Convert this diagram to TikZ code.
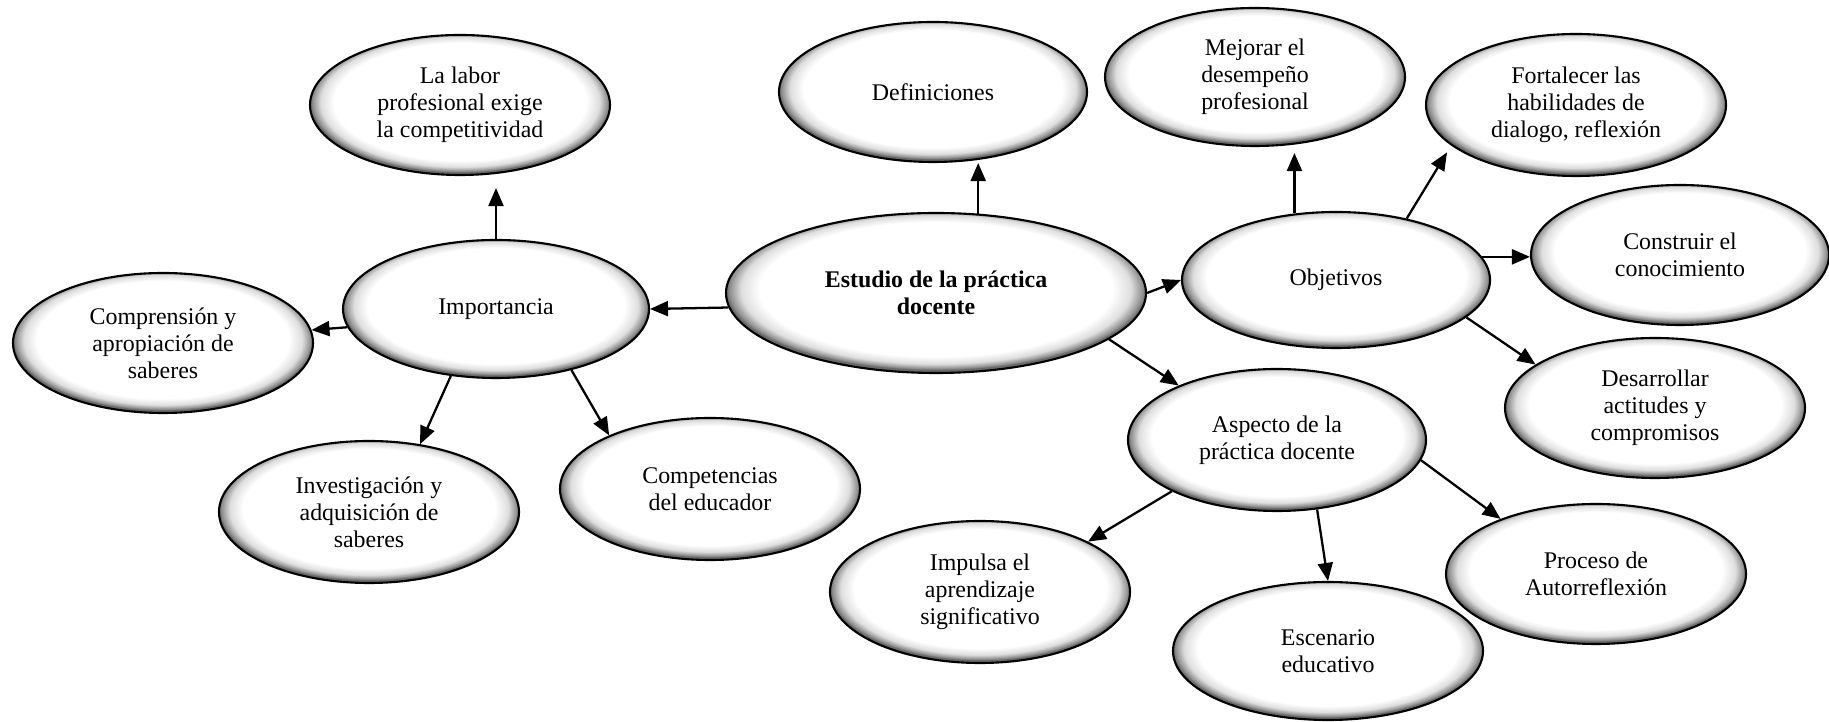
\documentclass[tikz,border=0pt]{standalone}
\usepackage{fontspec}
\setmainfont{Liberation Serif}
\usetikzlibrary{shapes.geometric,arrows.meta}
\definecolor{rimgray}{RGB}{105,105,105}
\pgfdeclareradialshading{bubbleshade}{\pgfpoint{0bp}{2bp}}{color(0bp)=(white); color(21bp)=(white); color(23.2bp)=(rimgray!22); color(24.6bp)=(rimgray!75); color(25bp)=(rimgray); color(50bp)=(rimgray)}

\begin{document}
\begin{tikzpicture}[
    bubble/.style={ellipse, draw=black, line width=1.2pt, shade, shading=bubbleshade,
                   minimum width=6cm, minimum height=2.8cm, inner sep=0pt, align=center,
                   font=\fontsize{13.6}{15.4}\selectfont},
    conn/.style={-{Triangle[length=0.36cm,width=0.3cm]}, line width=1.3pt}]
            \useasboundingbox (0,0) rectangle (36.58,14.44);
            \node[bubble, minimum width=8.4cm, minimum height=3.2cm,
                  font=\fontsize{13.6}{15.4}\selectfont\bfseries]  (estudio)       at (18.72, 8.58) {Estudio de la práctica\\docente};
            \node[bubble, minimum width=6.12cm, minimum height=2.76cm] (importancia)   at ( 9.92, 8.26) {Importancia};
            \node[bubble]                                           (labor)         at ( 9.20,12.34) {La labor\\profesional exige\\la competitividad};
            \node[bubble]                                           (comprension)   at ( 3.26, 7.58) {Comprensión y\\apropiación de\\saberes};
            \node[bubble, minimum height=2.84cm]                    (investigacion) at ( 7.38, 4.20) {Investigación y\\adquisición de\\saberes};
            \node[bubble, minimum height=2.84cm]                    (competencias)  at (14.20, 4.66) {Competencias\\del educador};
            \node[bubble, minimum width=6.16cm]                     (definiciones)  at (18.66,12.60) {Definiciones};
            \node[bubble, minimum height=2.76cm]                    (mejorar)       at (25.10,12.90) {Mejorar el\\desempeño\\profesional};
            \node[bubble, minimum height=2.84cm]                    (fortalecer)    at (31.52,12.34) {Fortalecer las\\habilidades de\\dialogo, reflexión};
            \node[bubble, minimum width=6.16cm, minimum height=2.72cm] (objetivos)   at (26.72, 8.84) {Objetivos};
            \node[bubble, minimum width=5.96cm]                     (construir)     at (33.60, 9.34) {Construir el\\conocimiento};
            \node[bubble]                                           (desarrollar)   at (33.10, 6.28) {Desarrollar\\actitudes y\\compromisos};
            \node[bubble, minimum width=5.96cm, minimum height=2.84cm] (aspecto)     at (25.54, 5.64) {Aspecto de la\\práctica docente};
            \node[bubble, minimum height=2.84cm]                    (impulsa)       at (19.60, 2.60) {Impulsa el\\aprendizaje\\significativo};
            \node[bubble, minimum width=6.2cm, minimum height=2.76cm] (escenario)    at (26.56, 1.42) {Escenario\\educativo};
            \node[bubble]                                           (proceso)       at (31.92, 2.96) {Proceso de\\Autorreflexión};
            \draw[conn]                    (estudio.184)     -- (importancia.east);
            \draw[conn, shorten >=0.24cm]  (importancia.north) -- (importancia.north |- labor.south);
            \draw[conn]                    (importancia.187) -- (comprension.5);
            \draw[conn]                    (importancia.236) -- (investigacion.53);
            \draw[conn]                    (importancia.321) -- (competencias.152);
            \draw[conn]                    (estudio.62)      -- (estudio.62 |- definiciones.south);
            \draw[conn]                    (estudio.east)    -- (objetivos.west);
            \draw[conn, shorten >=0.12cm]  (objetivos.122)   -- (objetivos.122 |- mejorar.south);
            \draw[conn, shorten >=0.16cm]  (objetivos.41)    -- (fortalecer.198);
            \draw[conn]                    (objetivos.9)     -- (objetivos.9 -| construir.west);
            \draw[conn]                    (objetivos.344)   -- (desarrollar.160);
            \draw[conn]                    (estudio.345)     -- (aspecto.151);
            \draw[conn]                    (aspecto.206)     -- (impulsa.25);
            \draw[conn]                    (aspecto.300)     -- (escenario.north);
            \draw[conn]                    (aspecto.352)     -- (proceso.150);
\end{tikzpicture}
\end{document}
